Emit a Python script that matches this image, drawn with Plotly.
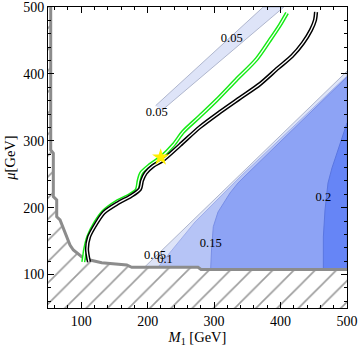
import plotly.graph_objects as go

# excluded region boundary (hatched), M1 / mu in GeV
excl_m1 = [54.1, 54.1, 58.0, 58.0, 63.1, 63.1, 68.1, 73.0, 78.1, 83.1, 88.1, 100.7,
           113.2, 130.8, 168.5, 176.0, 275.8, 280.3, 500]
excl_mu = [500, 286.2, 281.3, 216.4, 211.5, 186.5, 181.6, 169.2, 156.6, 144.2, 136.7, 126.7,
           121.8, 117.7, 114.3, 110.9, 110.9, 107.6, 107.6]

# filled contour regions (lower right)
c005_m1 = [183.0, 500, 500]
c005_mu = [99.3, 404.0, 99.3]
c01_m1 = [215.6, 217.1, 271.3, 342.0, 500, 500]
c01_mu = [99.3, 112.8, 178.6, 248.8, 396.8, 99.3]
c015_m1 = [294.9, 294.9, 296.1, 298.8, 305.9, 313.9, 323.9, 336.0, 346.5, 500, 500]
c015_mu = [99.3, 109.8, 136.7, 171.5, 193.5, 206.5, 221.9, 236.9, 247.3, 395.3, 99.3]
c02_m1 = [464.4, 464.4, 464.4, 466.9, 471.4, 477.4, 484.9, 492.5, 500, 500]
c02_mu = [99.3, 106.8, 156.2, 196.5, 236.9, 259.3, 281.7, 304.2, 326.6, 99.3]

# upper thin 0.05 band
band_m1 = [212.0, 374.0, 405.0, 221.5]
band_mu = [352.5, 500, 500, 345.5]

# green and black curves
green_m1 = [103.1, 104.5, 105.7, 110.7, 120.7, 133.2, 153.4, 173.4, 183.5, 186.5, 190.0, 203.5,
            221.1, 238.6, 253.6, 278.8, 303.9, 333.0, 364.1, 384.1, 399.2, 409.7]
green_mu = [118.8, 128.0, 136.7, 156.6, 176.6, 194.0, 208.9, 218.9, 226.4, 240.4, 251.4, 263.8,
            276.2, 293.7, 313.6, 337.0, 360.9, 390.9, 422.3, 450.7, 473.1, 491.0]
black_m1 = [111.7, 108.7, 111.7, 122.2, 134.3, 155.4, 174.9, 188.5, 191.5, 197.0, 208.0, 223.1,
            248.7, 278.8, 308.9, 339.0, 369.1, 396.2, 417.3, 433.8, 445.8, 451.9, 453.4]
black_mu = [118.8, 138.2, 156.1, 175.6, 192.8, 207.0, 217.4, 227.9, 240.4, 251.8, 262.3, 271.3,
            293.7, 320.6, 343.0, 364.0, 384.9, 408.8, 426.7, 446.2, 465.6, 480.6, 492.5]

star_m1 = [219.6]
star_mu = [275.3]

lab_text = ['0.05', '0.05', '0.05', '0.1', '0.15', '0.2']
lab_m1 = [326.5, 213.6, 211.0, 226.1, 294.9, 464.4]
lab_mu = [452.2, 341.5, 127.7, 121.8, 145.7, 214.0]

fig = go.Figure()

def region(x, y, color, edge):
    fig.add_trace(go.Scatter(x=x, y=y, fill='toself', fillcolor=color, mode='lines',
                             line=dict(color=edge, width=1), hoverinfo='skip', showlegend=False))

region(c005_m1, c005_mu, 'rgb(222,228,248)', 'rgb(175,182,205)')
region(c01_m1, c01_mu, 'rgb(182,196,246)', 'rgb(160,175,235)')
region(c015_m1, c015_mu, 'rgb(141,163,245)', 'rgb(120,142,230)')
region(c02_m1, c02_mu, 'rgb(102,133,246)', 'rgb(90,118,225)')
region(band_m1, band_mu, 'rgb(222,228,248)', 'rgb(175,182,205)')

# hatched excluded region
fig.add_trace(go.Scatter(x=excl_m1 + [500, 50, 50], y=excl_mu + [50, 50, 500], fill='toself',
                         mode='lines', line=dict(width=0), fillcolor='white',
                         fillpattern=dict(shape='/', fgcolor='#3a3a3a', bgcolor='white',
                                          size=15, solidity=0.11),
                         hoverinfo='skip', showlegend=False))
fig.add_trace(go.Scatter(x=excl_m1, y=excl_mu, mode='lines',
                         line=dict(color='#8c8c8c', width=3), showlegend=False))

# double lines
for xs, ys, col in [(green_m1, green_mu, 'rgb(20,235,20)'), (black_m1, black_mu, 'black')]:
    fig.add_trace(go.Scatter(x=xs, y=ys, mode='lines', line=dict(color=col, width=4.2, shape='spline',
                                                                 smoothing=0.8),
                             showlegend=False))
    fig.add_trace(go.Scatter(x=xs, y=ys, mode='lines', line=dict(color='white', width=1.3, shape='spline',
                                                                 smoothing=0.8),
                             showlegend=False))

fig.add_trace(go.Scatter(x=star_m1, y=star_mu, mode='markers',
                         marker=dict(symbol='star', size=13, color='rgb(255,240,0)', line=dict(width=0)),
                         showlegend=False))

fig.add_trace(go.Scatter(x=lab_m1, y=lab_mu, mode='text', text=lab_text,
                         textfont=dict(family='Liberation Serif', size=12.5, color='black'),
                         showlegend=False))

axis = dict(range=[50, 500], tick0=100, dtick=100, ticks='inside', ticklen=6, tickcolor='black',
            showline=True, linecolor='black', linewidth=1, mirror='allticks', showgrid=False,
            zeroline=False, automargin=False, ticklabeloverflow='allow',
            tickfont=dict(family='Liberation Serif', size=14, color='black'),
            minor=dict(ticks='inside', dtick=20, ticklen=3, tickcolor='black', showgrid=False))

fig.update_xaxes(**axis, title=dict(text='<i>M</i><sub>1</sub> [GeV]', standoff=2,
                                    font=dict(family='Liberation Serif', size=14.5, color='black')))
fig.update_yaxes(**axis, title=dict(text='<i>μ</i>[GeV]', standoff=4,
                                    font=dict(family='Liberation Serif', size=14.5, color='black')))

fig.update_layout(width=360, height=348, margin=dict(l=48, r=13, t=7, b=40),
                  plot_bgcolor='white', paper_bgcolor='white')

fig.write_html('out.html', config={'displayModeBar': False},
               post_script="document.body.style.margin='0px';")
